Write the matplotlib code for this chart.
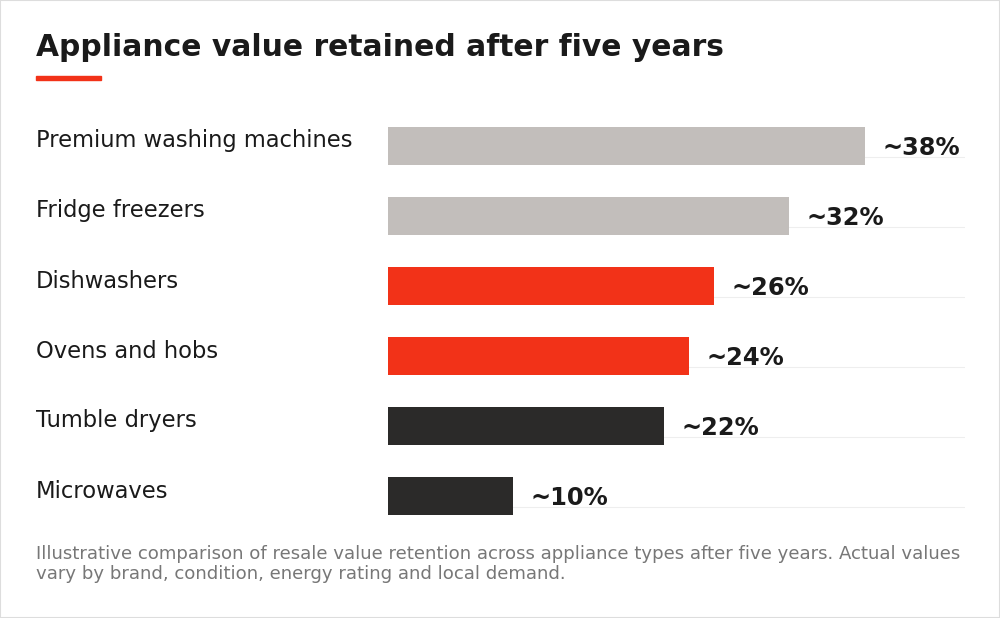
import matplotlib.pyplot as plt
from matplotlib.patches import Rectangle

categories = ["Premium washing machines", "Fridge freezers", "Dishwashers",
              "Ovens and hobs", "Tumble dryers", "Microwaves"]
values = [38, 32, 26, 24, 22, 10]
colors = ["#c2bebb", "#c2bebb", "#f23218", "#f23218", "#2b2a29", "#2b2a29"]

W, H = 1000, 618
fig = plt.figure(figsize=(10, 6.18), dpi=100)
fig.patches.append(Rectangle((0, 0), 1, 1, transform=fig.transFigure,
                             fill=False, edgecolor="#dddddd", linewidth=1.5))

# bar area: x 388..965 px, y 111..531 px
ax = fig.add_axes([388 / W, 1 - 531 / H, (965 - 388) / W, 420 / H])
ax.set_xlim(0, 46)
ax.set_ylim(len(values) - 0.5, -0.5)
ax.axis("off")

for i, (cat, v, c) in enumerate(zip(categories, values, colors)):
    ax.barh(i, v, height=0.53, color=c)
    ax.plot([0, 46], [i + 0.15, i + 0.15], color="#eeeeee", lw=0.8, zorder=0)
    ax.text(v + 1.4, i + 0.03, f"~{v}%", ha="left", va="center",
            fontsize=17.4, fontweight="bold", color="#1a1a1a")
    y_fig = 1 - (111 + 70 * i + 30) / H
    fig.text(36 / W, y_fig, cat, ha="left", va="center", fontsize=16.3, color="#1a1a1a")

fig.text(36 / W, 1 - 48 / H, "Appliance value retained after five years",
         ha="left", va="center", fontsize=21.4, fontweight="bold", color="#1a1a1a")
fig.patches.append(Rectangle((36 / W, 1 - 80 / H), 65 / W, 4 / H,
                             transform=fig.transFigure, color="#f23218"))
fig.text(36 / W, 1 - 564 / H,
         "Illustrative comparison of resale value retention across appliance types after five years. Actual values\n"
         "vary by brand, condition, energy rating and local demand.",
         ha="left", va="center", fontsize=13.1, color="#777777", linespacing=1.15)

fig.savefig("out.png", dpi=100)
